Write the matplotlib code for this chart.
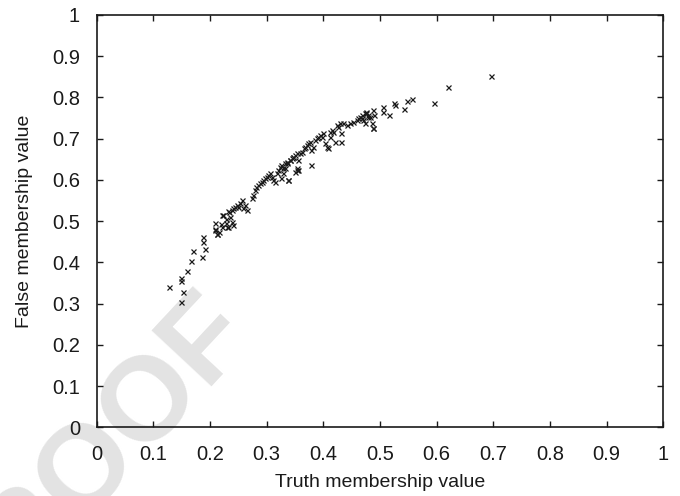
import numpy as np
import matplotlib
matplotlib.use('Agg')
import matplotlib.pyplot as plt

plt.rcParams['font.family'] = ['Liberation Sans', 'DejaVu Sans']

# truth / false membership values
truth = [0.232, 0.222, 0.229, 0.209, 0.219, 0.230, 0.209, 0.213, 0.188, 0.187,
         0.170, 0.192, 0.167, 0.186, 0.159, 0.149, 0.148, 0.128, 0.152, 0.148,
         0.209, 0.212, 0.215, 0.221, 0.223, 0.229, 0.232, 0.235, 0.238, 0.241,
         0.234, 0.238, 0.241, 0.244, 0.247, 0.250, 0.253, 0.256, 0.259, 0.262,
         0.265, 0.274, 0.276, 0.279, 0.282, 0.285, 0.288, 0.291, 0.294, 0.297,
         0.300, 0.303, 0.306, 0.309, 0.312, 0.315, 0.318, 0.320, 0.323, 0.326,
         0.329, 0.332, 0.335, 0.338, 0.341, 0.344, 0.347, 0.350, 0.353, 0.356,
         0.353, 0.326, 0.338, 0.329, 0.332, 0.335, 0.341, 0.347, 0.350, 0.353,
         0.356, 0.359, 0.362, 0.365, 0.368, 0.371, 0.373, 0.376, 0.378, 0.379,
         0.382, 0.385, 0.388, 0.391, 0.394, 0.397, 0.400, 0.403, 0.406, 0.409,
         0.412, 0.415, 0.417, 0.412, 0.421, 0.424, 0.426, 0.429, 0.432, 0.432,
         0.435, 0.441, 0.447, 0.453, 0.459, 0.462, 0.465, 0.468, 0.470, 0.473,
         0.476, 0.479, 0.482, 0.488, 0.485, 0.468, 0.473, 0.476, 0.479, 0.488,
         0.489, 0.488, 0.505, 0.506, 0.515, 0.525, 0.526, 0.543, 0.547, 0.557,
         0.595, 0.620, 0.696]
false = [0.525, 0.515, 0.504, 0.495, 0.493, 0.485, 0.480, 0.469, 0.462, 0.449,
         0.428, 0.432, 0.404, 0.412, 0.378, 0.362, 0.356, 0.341, 0.328, 0.305,
         0.479, 0.469, 0.474, 0.487, 0.515, 0.495, 0.485, 0.511, 0.499, 0.491,
         0.523, 0.527, 0.531, 0.535, 0.539, 0.534, 0.543, 0.551, 0.531, 0.539,
         0.527, 0.555, 0.563, 0.576, 0.584, 0.588, 0.592, 0.596, 0.600, 0.604,
         0.608, 0.612, 0.616, 0.608, 0.600, 0.596, 0.616, 0.624, 0.632, 0.636,
         0.628, 0.640, 0.644, 0.600, 0.648, 0.652, 0.656, 0.660, 0.665, 0.648,
         0.624, 0.604, 0.600, 0.616, 0.628, 0.640, 0.648, 0.656, 0.620, 0.628,
         0.624, 0.665, 0.668, 0.677, 0.681, 0.685, 0.689, 0.693, 0.636, 0.673,
         0.681, 0.697, 0.701, 0.705, 0.709, 0.705, 0.713, 0.689, 0.681, 0.677,
         0.717, 0.721, 0.717, 0.705, 0.693, 0.733, 0.729, 0.737, 0.713, 0.693,
         0.737, 0.733, 0.737, 0.741, 0.745, 0.749, 0.753, 0.757, 0.745, 0.762,
         0.765, 0.757, 0.753, 0.725, 0.737, 0.749, 0.737, 0.762, 0.753, 0.770,
         0.757, 0.725, 0.778, 0.765, 0.757, 0.786, 0.782, 0.772, 0.792, 0.796,
         0.786, 0.826, 0.853]

ticks = [0, 0.1, 0.2, 0.3, 0.4, 0.5, 0.6, 0.7, 0.8, 0.9, 1]
tick_labels = ['0', '0.1', '0.2', '0.3', '0.4', '0.5', '0.6', '0.7', '0.8', '0.9', '1']

fig = plt.figure(figsize=(6.8, 4.96), dpi=100)

# faint proof watermark, drawn under the axes
fig.text(0.128, 0.058, 'PROOF', fontsize=86, fontweight='bold', color='#e3e3e3',
         rotation=47, rotation_mode='anchor', ha='center', va='center', zorder=-5)

ax = fig.add_axes([0.1422, 0.1385, 0.8333, 0.8313])
ax.patch.set_alpha(0)
ax.plot(truth, false, ls='none', marker='x', ms=3.6, mew=0.9, color='#1a1a1a')

ax.set_xlim(0, 1)
ax.set_ylim(0, 1)
ax.set_xticks(ticks)
ax.set_xticklabels(tick_labels)
ax.set_yticks(ticks)
ax.set_yticklabels(tick_labels)
ax.tick_params(direction='in', length=4, width=1, top=True, right=True,
               labelsize=14.5, colors='#1a1a1a')
ax.tick_params(axis='x', pad=13)
ax.tick_params(axis='y', pad=12)
for sp in ax.spines.values():
    sp.set_linewidth(1.2)
    sp.set_color('#1a1a1a')

ax.set_xlabel('Truth membership value', fontsize=14, color='#1a1a1a', labelpad=7)
ax.set_ylabel('False membership value', fontsize=14, color='#1a1a1a', labelpad=14)

fig.savefig('out.png', dpi=100)
